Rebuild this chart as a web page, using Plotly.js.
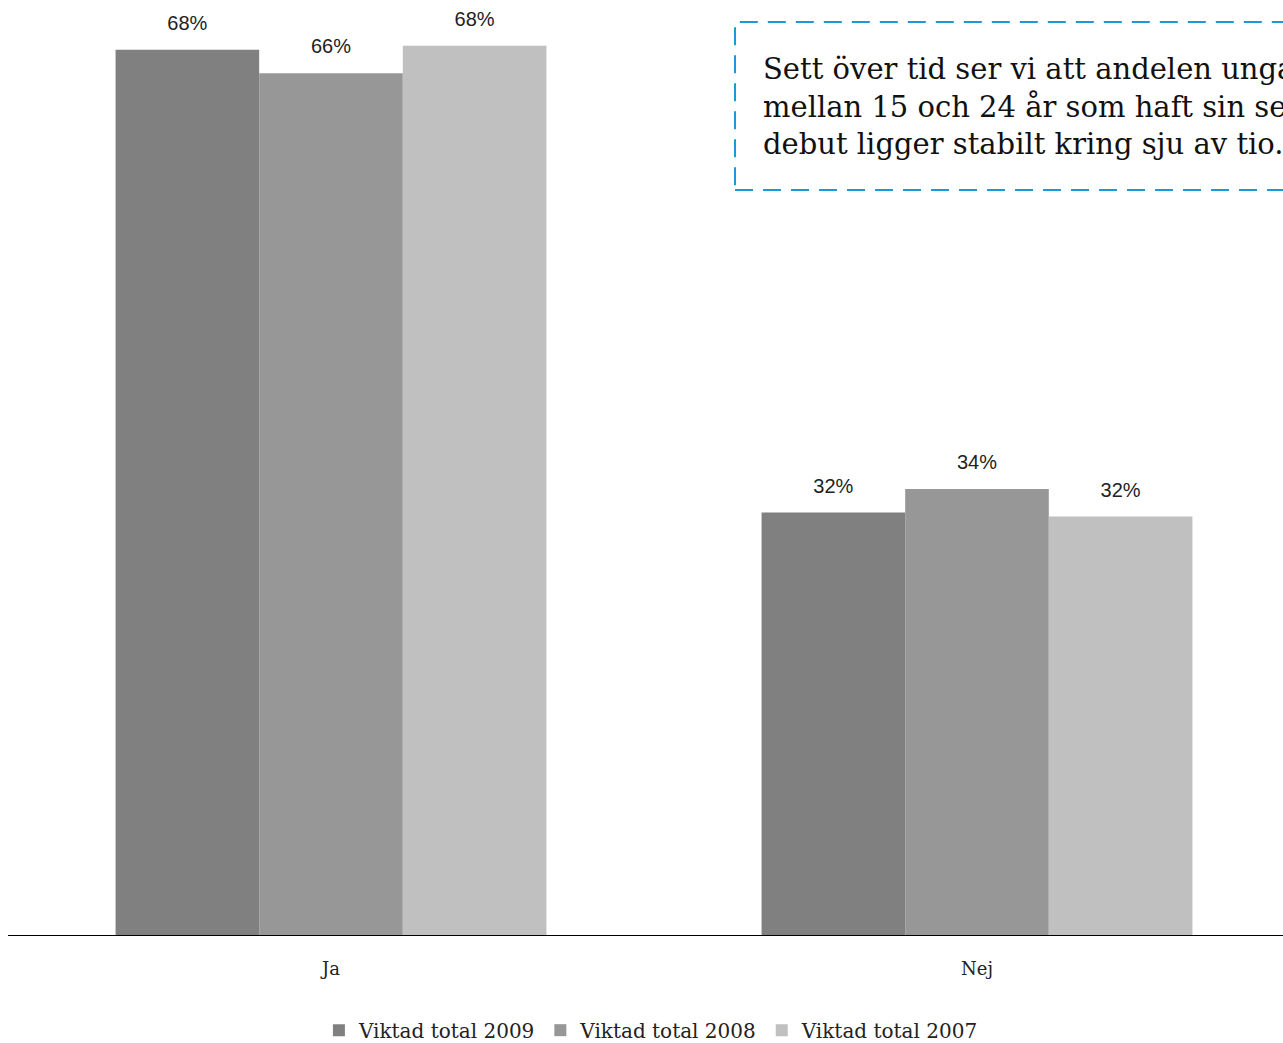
<!DOCTYPE html>
<html>
<head>
<meta charset="utf-8">
<script src="https://cdn.plot.ly/plotly-3.0.1.min.js"></script>
<style>
html, body { margin: 0; padding: 0; overflow: hidden; background: #fff; }
#chart { width: 1310px; height: 1043px; }
</style>
</head>
<body>
<div id="chart"></div>
<script>
const categories = ["Ja", "Nej"];
const seriesNames = ["Viktad total 2009", "Viktad total 2008", "Viktad total 2007"];
const values2009 = [67.7, 32.3];
const values2008 = [65.9, 34.1];
const values2007 = [68.0, 32.0];
const seriesColors = ["#808080", "#979797", "#c0c0c0"];
const noteText = "Sett över tid ser vi att andelen unga<br>mellan 15 och 24 år som haft sin sexuella<br>debut ligger stabilt kring sju av tio.";

const serif = "DejaVu Serif, Liberation Serif, serif";
const sans = "Liberation Sans, Arial, sans-serif";

const allValues = [values2009, values2008, values2007];
const traces = [];
allValues.forEach((vals, i) => {
  traces.push({
    type: "bar",
    name: seriesNames[i],
    x: categories,
    y: vals,
    offsetgroup: "g" + i,
    marker: { color: seriesColors[i], line: { width: 0 } },
    hoverinfo: "skip"
  });
});
allValues.forEach((vals, i) => {
  traces.push({
    type: "scatter",
    mode: "markers+text",
    showlegend: false,
    x: categories,
    y: vals,
    offsetgroup: "g" + i,
    marker: { size: 22, opacity: 0, color: seriesColors[i] },
    text: vals.map(v => Math.round(v) + "%"),
    textposition: "top center",
    cliponaxis: false,
    textfont: { family: sans, size: 20, color: "#222" },
    hoverinfo: "skip"
  });
});

const layout = {
  width: 1310,
  height: 1043,
  margin: { l: 8, r: 10, t: 0, b: 108 },
  paper_bgcolor: "#fff",
  plot_bgcolor: "#fff",
  barmode: "group",
  scattermode: "group",
  bargap: 0.333,
  bargroupgap: 0,
  scattergap: 0.333,
  showlegend: true,
  legend: {
    orientation: "h",
    x: 0.498, xanchor: "center",
    yref: "container",
    y: 0.031, yanchor: "top",
    font: { family: serif, size: 20, color: "#222" },
    itemwidth: 30,
    tracegroupgap: 0
  },
  xaxis: {
    showline: true, linecolor: "#000", linewidth: 1,
    showgrid: false, zeroline: false,
    ticks: "",
    tickfont: { family: serif, size: 18, color: "#222" },
    ticklabelstandoff: 17
  },
  yaxis: {
    visible: false,
    range: [0, 71.5],
    showgrid: false, zeroline: false
  },
  shapes: [{
    type: "rect", xref: "paper", yref: "paper",
    x0: 0.5627, x1: 1.2, y0: 0.7968, y1: 0.9765,
    line: { color: "#1a9bd7", width: 2, dash: "18px,10px" },
    fillcolor: "rgba(0,0,0,0)"
  }],
  annotations: [{
    xref: "paper", yref: "paper",
    x: 0.5828, y: 0.886,
    xanchor: "left", yanchor: "middle",
    align: "left",
    showarrow: false,
    text: noteText,
    font: { family: serif, size: 29, color: "#111" }
  }]
};

Plotly.newPlot("chart", traces, layout, { displayModeBar: false, staticPlot: true });
</script>
</body>
</html>
